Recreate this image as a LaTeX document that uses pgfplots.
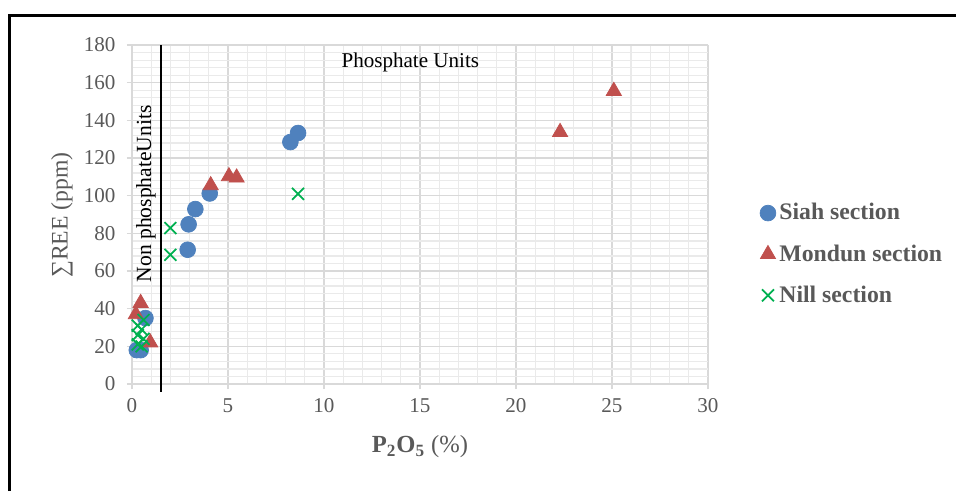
\documentclass[border=0pt]{standalone}
\usepackage{fontspec}
\setmainfont{Liberation Serif}
\usepackage{pgfplots}
\pgfplotsset{compat=1.18}
\definecolor{siah}{HTML}{4F81BD}
\definecolor{mondun}{HTML}{C0504D}
\definecolor{nill}{HTML}{00B050}
\definecolor{txtgray}{HTML}{595959}
\definecolor{majgrid}{HTML}{D9D9D9}
\definecolor{mingrid}{HTML}{EAEAEA}

\begin{document}
\begin{tikzpicture}[x=0.02cm,y=0.02cm]
% page is 956 x 491 px, axis origin at px (132,384) from top-left
\useasboundingbox (-132,-107) rectangle (824,384);
\draw[black, line width=0.06cm] (-122,-107) -- (-122,369) -- (824,369);
\begin{axis}[
    scale only axis, width=11.52cm, height=6.78cm,
    xmin=0, xmax=30, ymin=0, ymax=180,
    xtick distance=5, ytick distance=20,
    minor x tick num=4, minor y tick num=4,
    grid=both,
    major grid style={majgrid, line width=0.7pt},
    minor grid style={mingrid, line width=0.7pt},
    axis lines=left,
    axis line style={majgrid, line width=0.8pt, -},
    tick align=outside,
    major tick length=0.1cm, minor tick length=0pt,
    tick style={majgrid, line width=0.8pt},
    tick label style={font=\fontsize{12}{14}\selectfont, text=txtgray},
    xticklabel style={yshift=-2pt},
    yticklabel style={xshift=-3pt},
    /pgf/number format/assume math mode=true,
    xlabel={\textbf{P\textsubscript{2}O\textsubscript{5}} (\%)},
    xlabel style={at={(axis description cs:0.5,-0.185)}, anchor=center,
        font=\fontsize{14}{16}\selectfont, text=txtgray},
    ylabel={∑REE (ppm)},
    ylabel style={at={(axis description cs:-0.1215,0.4985)}, anchor=center, rotate=0,
        font=\fontsize{13.5}{15}\selectfont, text=txtgray},
    legend style={at={(1.09,0.383)}, anchor=west, draw=none, fill=none,
        font=\bfseries\fontsize{13.5}{15}\selectfont, text=txtgray,
        row sep=0.3cm, inner sep=0pt},
    legend cell align=left,
    clip=false,
]
\addplot[only marks, mark=*, mark size=4.5pt, mark options={fill=siah, draw=siah}]
coordinates {
    (8.65,133.3) (8.25,128.5) (4.05,101.2) (3.3,92.9) (2.95,84.8)
    (2.9,71.3) (0.7,35) (0.25,18) (0.45,18)
};
\addplot[only marks, mark=triangle*, mark size=5pt, mark options={fill=mondun, draw=mondun}]
coordinates {
    (25.1,155.6) (22.3,133.8) (5.45,109.6) (5.05,110.3) (4.1,105.5)
    (0.45,43) (0.2,37) (0.95,22)
};
\addplot[only marks, mark=x, mark size=4.8pt, mark options={draw=nill, line width=1pt}]
coordinates {
    (8.65,101) (2.0,82.8) (2.0,68.6)
    (0.6,34) (0.3,31) (0.5,29) (0.3,26) (0.6,24) (0.3,21) (0.5,20)
};
\legend{Siah section, Mondun section, Nill section}
\draw[black, line width=0.9pt] (axis cs:1.5,-4) -- (axis cs:1.5,180);
\node[font=\fontsize{12}{14}\selectfont] at (axis cs:14.5,171) {Phosphate Units};
\node[font=\fontsize{12.3}{14}\selectfont, rotate=90] at (axis cs:0.73,101) {Non phosphateUnits};
\end{axis}
\end{tikzpicture}
\end{document}
